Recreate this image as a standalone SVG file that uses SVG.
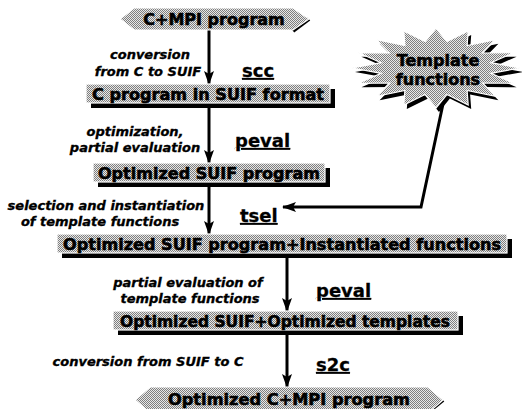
<svg xmlns="http://www.w3.org/2000/svg" width="522" height="409" viewBox="0 0 522 409">
  <style>
    .box { fill: url(#dots); stroke: #ffffff; stroke-width: 1.2; }
    .shadow { fill: #000000; }
    .boxlabel { font-family: "DejaVu Sans", "Liberation Sans", sans-serif; font-weight: bold; font-size: 16px; fill: #000; stroke: #000; stroke-width: 0.6; text-anchor: middle; }
    .note { font-family: "DejaVu Sans", "Liberation Sans", sans-serif; font-weight: bold; font-style: italic; font-size: 13px; fill: #000; stroke: #000; stroke-width: 0.35; text-anchor: middle; }
    .tool { font-family: "DejaVu Sans", "Liberation Sans", sans-serif; font-weight: bold; font-size: 18px; fill: #000; stroke: #000; stroke-width: 0.3; text-decoration: underline; }
    .flow { stroke: #000; stroke-width: 3; fill: none; marker-end: url(#arrow); }
  </style>
  <defs>
    <!-- halftone fill used by every node -->
    <pattern id="dots" width="2" height="2" patternUnits="userSpaceOnUse">
      <rect width="2" height="2" fill="#e8e8e8"/>
      <rect width="1" height="1" fill="#7e7e7e"/>
      <rect x="1" y="1" width="1" height="1" fill="#7e7e7e"/>
    </pattern>
    <marker id="arrow" viewBox="0 0 14 10" refX="13" refY="5" markerWidth="14" markerHeight="10" orient="auto" markerUnits="userSpaceOnUse">
      <path d="M0,0 L14,5 L0,10 L3,5 Z" fill="#000"/>
    </marker>
  </defs>

  <rect width="522" height="409" fill="#ffffff"/>

  <!-- connectors -->
  <g id="connectors">
    <line class="flow" x1="209" y1="30" x2="209" y2="84"/>
    <line class="flow" x1="209" y1="103" x2="209" y2="163"/>
    <line class="flow" x1="209" y1="182" x2="209" y2="234"/>
    <line class="flow" x1="287" y1="253" x2="287" y2="311"/>
    <line class="flow" x1="287" y1="330" x2="287" y2="387"/>
    <polyline class="flow" points="443,104 421,207 283,207"/>
  </g>

  <!-- step labels -->
  <g id="step-labels">
    <text class="note" x="150" y="59">conversion</text>
    <text class="note" x="148" y="76">from C to SUIF</text>
    <text class="tool" x="242" y="77">scc</text>

    <text class="note" x="135" y="136">optimization,</text>
    <text class="note" x="135" y="152">partial evaluation</text>
    <text class="tool" x="235" y="147">peval</text>

    <text class="note" x="106" y="210">selection and instantiation</text>
    <text class="note" x="100" y="226">of template functions</text>
    <text class="tool" x="240" y="222">tsel</text>

    <text class="note" x="188" y="287">partial evaluation of</text>
    <text class="note" x="190" y="303">template functions</text>
    <text class="tool" x="316" y="297">peval</text>

    <text class="note" x="148" y="366">conversion from SUIF to C</text>
    <text class="tool" x="316" y="371">s2c</text>
  </g>

  <!-- source program -->
  <g id="node-cmpi">
    <path d="M309,19 L293,31" stroke="#000" stroke-width="4" fill="none"/>
    <polygon class="box" points="120,19 134,8 293,8 309,19 293,30 134,30"/>
    <text class="boxlabel" x="214" y="25">C+MPI program</text>
  </g>

  <g id="node-suif">
    <rect class="shadow" x="91" y="89" width="244" height="19"/>
    <rect class="box" x="86" y="84" width="244" height="19"/>
    <text class="boxlabel" x="208" y="100" textLength="232" lengthAdjust="spacingAndGlyphs">C program in SUIF format</text>
  </g>

  <g id="node-opt-suif">
    <rect class="shadow" x="98" y="168" width="232" height="19"/>
    <rect class="box" x="93" y="163" width="232" height="19"/>
    <text class="boxlabel" x="209" y="179" textLength="222" lengthAdjust="spacingAndGlyphs">Optimized SUIF program</text>
  </g>

  <g id="node-instantiated">
    <rect class="shadow" x="62" y="239" width="450" height="19"/>
    <rect class="box" x="57" y="234" width="450" height="19"/>
    <text class="boxlabel" x="282" y="250" textLength="438" lengthAdjust="spacingAndGlyphs">Optimized SUIF program+Instantiated functions</text>
  </g>

  <g id="node-opt-templates">
    <rect class="shadow" x="118" y="316" width="345" height="19"/>
    <rect class="box" x="113" y="311" width="345" height="19"/>
    <text class="boxlabel" x="285" y="327" textLength="330" lengthAdjust="spacingAndGlyphs">Optimized SUIF+Optimized templates</text>
  </g>

  <!-- result program -->
  <g id="node-opt-cmpi">
    <path d="M443,400 L428,412" stroke="#000" stroke-width="4" fill="none"/>
    <polygon class="box" points="135,400 150,387 428,387 443,400 428,413 150,413"/>
    <text class="boxlabel" x="289" y="405" textLength="242" lengthAdjust="spacingAndGlyphs">Optimized C+MPI program</text>
  </g>

  <!-- template library starburst -->
  <g id="node-templates">
    <polygon class="shadow" transform="translate(3,4)" points="520,68 490.9,73.3 513.6,83.3 482.5,83 495.4,96.3 467.1,90.4 468.2,105 446.9,94.5 436,108 425.1,94.5 403.8,105 404.9,90.4 376.6,96.3 389.5,83 358.4,83.3 381.1,73.3 352,68 381.1,62.7 358.4,52.7 389.5,53 376.6,39.7 404.9,45.6 403.8,31 425.1,41.5 436,28 446.9,41.5 468.2,31 467.1,45.6 495.4,39.7 482.5,53 513.6,52.7 490.9,62.7"/>
    <polygon class="box" points="520,68 490.9,73.3 513.6,83.3 482.5,83 495.4,96.3 467.1,90.4 468.2,105 446.9,94.5 436,108 425.1,94.5 403.8,105 404.9,90.4 376.6,96.3 389.5,83 358.4,83.3 381.1,73.3 352,68 381.1,62.7 358.4,52.7 389.5,53 376.6,39.7 404.9,45.6 403.8,31 425.1,41.5 436,28 446.9,41.5 468.2,31 467.1,45.6 495.4,39.7 482.5,53 513.6,52.7 490.9,62.7"/>
    <text class="boxlabel" x="438" y="66" font-size="15">Template</text>
    <text class="boxlabel" x="438" y="85" font-size="15">functions</text>
  </g>
</svg>
